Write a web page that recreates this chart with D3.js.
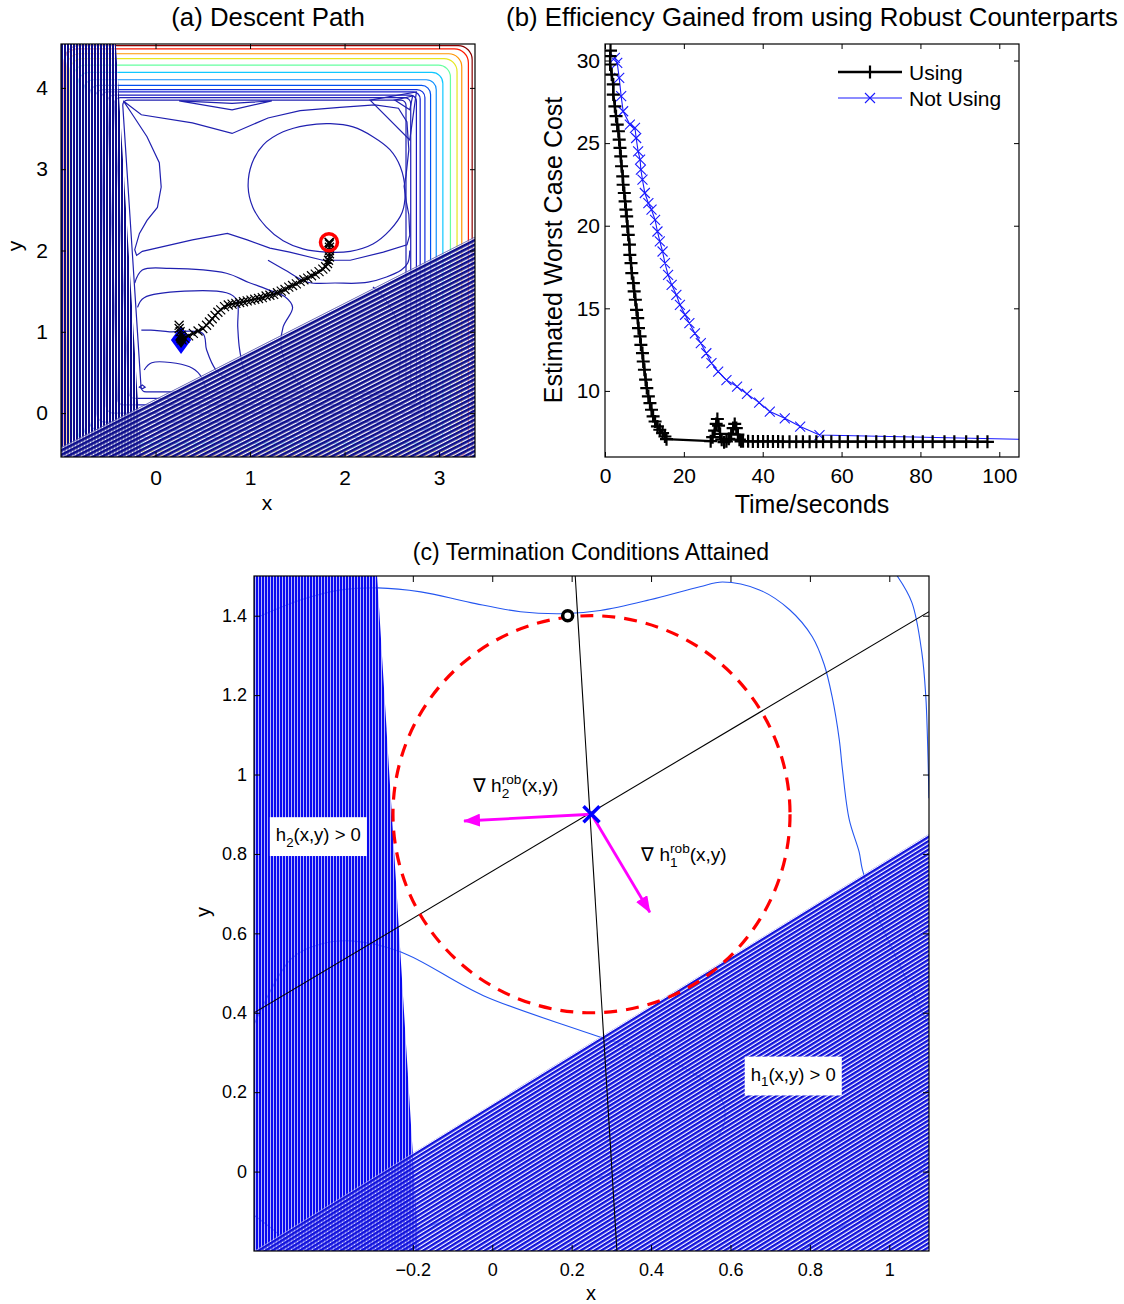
<!DOCTYPE html>
<html lang="en">
<head>
<meta charset="UTF-8">
<title>Robust descent</title>
<script src="https://cdn.jsdelivr.net/npm/d3@7"></script>
<style>
  body { margin: 0; background: #fff; }
  svg { font-family: "Liberation Sans", Arial, sans-serif; }
</style>
</head>
<body>
<div id="chart-space"></div>
<script>
// ---------------- (a) Descent Path ----------------
var aXTicks = [0, 1, 2, 3];
var aYTicks = [0, 1, 2, 3, 4];

// nested level curves (rounded boxes), outermost first
var levelColors = ["#8a0000", "#ff1a00", "#ff9400", "#e6e620", "#66ffa0", "#10c8ff", "#1090ff",
                   "#0050f0", "#1030e0", "#1820d0", "#1a1ac0", "#1e1eb8", "#2020b0"];
var levelTop = [4.52, 4.48, 4.42, 4.36, 4.28, 4.19, 4.10, 4.03, 3.98, 3.95, 3.91, 3.88, 3.85];
var levelRight = [3.35, 3.31, 3.24, 3.19, 3.12, 3.04, 2.97, 2.91, 2.85, 2.80, 2.76, 2.70, 2.65];
var levelBottom = [-0.62, -0.55, -0.52, -0.47, -0.42, -0.37, -0.30, -0.21, -0.11, 0.00, 0.10, 0.18, 0.26];
var levelLeftTop = [-0.96, -0.97, -0.94, -0.91, -0.87, -0.82, -0.76, -0.70, -0.64, -0.58, -0.51, -0.44, -0.35];
var levelLeftBottom = [-0.96, -0.97, -0.94, -0.91, -0.87, -0.82, -0.76, -0.70, -0.62, -0.52, -0.40, -0.28, -0.15];
var levelRadius = [14, 14, 13, 13, 12, 11, 10, 9, 8, 7, 6, 6, 5];

// inner level curves
var ellipseContour = [[0.98,2.78],[1.02,3.07],[1.14,3.30],[1.35,3.46],[1.60,3.54],[1.85,3.56],[2.09,3.52],
  [2.30,3.40],[2.48,3.24],[2.59,3.03],[2.64,2.74],[2.61,2.47],[2.48,2.25],[2.30,2.08],[2.06,1.99],
  [1.81,1.98],[1.56,2.02],[1.35,2.12],[1.17,2.29],[1.03,2.53]];
var xContour = [[-0.34,3.84],[-0.15,3.67],[0.39,3.57],[0.81,3.44],[1.19,3.63],[1.53,3.72],[1.95,3.76],
  [2.32,3.79],[2.57,3.75],[2.66,3.58],[2.68,3.24],[2.65,2.92],[2.63,2.79],[2.65,2.62],[2.68,2.44],
  [2.69,2.19],[2.66,2.07],[2.41,1.98],[2.06,1.88],[1.77,1.88],[1.42,1.98],[1.21,2.03],[0.97,2.13],
  [0.76,2.21],[0.39,2.13],[-0.14,1.99],[-0.20,1.94],[-0.22,2.01],[-0.17,2.21],[-0.09,2.37],[0.02,2.53],
  [0.06,2.78],[0.04,3.08],[-0.09,3.40],[-0.26,3.70]];
var belowContour = [[1.19,1.88],[1.37,1.76],[1.61,1.61],[1.90,1.60],[2.25,1.61],[2.60,1.76],[2.67,1.85],[2.69,2.00]];
var u1Contour = [[-0.22,1.60],[-0.14,1.76],[0.15,1.78],[0.75,1.72],[0.98,1.61],[1.21,1.51],[1.37,1.43],
  [1.45,1.30],[1.35,1.06],[1.33,0.81],[1.40,0.57],[1.61,0.28],[2.06,0.25],[2.53,0.21]];
var u2Contour = [[-0.19,1.30],[-0.12,1.42],[0.75,1.48],[0.86,1.39],[0.87,1.06],[0.89,0.78],[0.95,0.50],[1.12,0.26]];
var u3Contour = [[-0.15,1.02],[-0.05,1.02],[0.15,1.00],[0.50,0.98],[0.54,0.78],[0.64,0.53],[0.82,0.37]];
var u4Contour = [[-0.12,0.53],[-0.04,0.62],[0.36,0.57],[0.47,0.47],[0.54,0.28]];
var minLoop = [[-0.17,0.32],[-0.14,0.345],[-0.11,0.32],[-0.14,0.30]];
var rightInner = [[2.30,1.55],[2.41,1.43],[2.55,1.14],[2.59,0.78],[2.57,0.37]];
var flatLoop = [[0.25,3.84],[0.81,3.73],[1.23,3.84],[0.81,3.81]];
var bigTriangle = [[2.27,3.85],[2.76,3.95],[2.69,3.36]];
var smallTriangle = [[2.53,3.85],[2.72,3.90],[2.69,3.73]];

var aH2Line = [[-0.42, 4.54], [-0.15, -0.54]];
var aH1Line = [[-1.0, -0.42], [3.38, 2.17]];

var descentX = [0.25,0.25,0.26,0.27,0.27,0.28,0.31,0.35,0.40,0.45,0.50,0.54,0.57,0.60,0.63,0.66,0.69,0.73,
  0.77,0.81,0.85,0.89,0.93,0.97,1.01,1.05,1.09,1.13,1.17,1.21,1.25,1.29,1.33,1.37,1.41,1.45,1.49,1.53,1.57,
  1.61,1.65,1.69,1.73,1.77,1.80,1.82,1.83,1.84,1.84,1.84,1.84,1.84,1.84];
var descentY = [1.08,1.04,1.00,0.96,0.92,0.90,0.92,0.95,0.98,1.01,1.04,1.08,1.12,1.16,1.20,1.24,1.27,1.31,
  1.33,1.34,1.35,1.36,1.37,1.38,1.39,1.40,1.41,1.42,1.44,1.45,1.46,1.48,1.50,1.52,1.55,1.57,1.59,1.62,1.64,
  1.66,1.69,1.71,1.74,1.77,1.80,1.84,1.88,1.92,1.96,2.00,2.04,2.08,2.10];
var startPoint = [0.27, 0.90];
var endPoint = [1.835, 2.10];

// ---------------- (b) Efficiency ----------------
var bXTicks = [0, 20, 40, 60, 80, 100];
var bYTicks = [10, 15, 20, 25, 30];
var usingTime = [1.4,1.3,1.3,1.7,2.1,2.1,2.5,2.8,3.1,3.4,3.6,3.8,4.0,4.2,4.5,4.6,4.9,5.1,5.3,5.5,5.7,5.9,6.2,
  6.3,6.6,6.8,7.2,7.4,7.7,8.0,8.3,8.5,8.9,9.1,9.5,9.7,10.0,10.3,10.6,11.0,11.4,11.8,12.2,12.7,13.3,13.9,14.6,
  15.2,15.6,
  26.8,27.3,27.8,28.2,28.5,28.8,29.2,29.6,30.2,30.8,31.4,32.0,32.5,32.9,33.3,33.7,34.1,34.5,
  35.0,36.3,37.5,38.8,40.1,41.3,42.6,43.9,45.1,46.8,48.5,50.2,51.9,53.6,55.3,57.4,59.5,61.6,64.1,66.2,
  68.8,70.9,73.4,75.9,78.1,80.6,83.1,86.1,88.6,91.6,94.5,97.0];
var usingCost = [30.6,30.26,29.76,29.15,28.55,27.94,27.23,26.63,26.12,25.72,25.21,24.71,24.2,23.6,22.99,22.48,
  21.98,21.47,20.97,20.57,19.96,19.45,18.85,18.24,17.74,17.13,16.53,16.02,15.52,14.91,14.41,13.8,13.3,12.79,
  12.29,11.78,11.28,10.68,10.17,9.67,9.26,8.86,8.46,8.15,7.85,7.65,7.45,7.24,7.08,
  6.96,7.2,7.6,8.0,8.3,7.9,7.4,7.05,6.9,6.95,7.1,7.4,7.75,8.0,7.75,7.35,7.05,6.95,
  6.95,6.95,6.94,6.94,6.94,6.94,6.94,6.94,6.93,6.93,6.93,6.93,6.93,6.93,6.93,6.93,6.93,6.93,6.93,6.93,
  6.93,6.93,6.93,6.93,6.93,6.93,6.93,6.93,6.93,6.93,6.92,6.92];
var notUsingTime = [2.5,3.1,3.6,4.1,4.6,6.3,7.6,7.9,8.4,8.9,9.1,9.5,10.1,11.0,11.8,12.7,13.3,13.9,14.6,15.2,
  16.0,16.9,18.1,19.0,20.3,21.4,22.8,24.3,25.7,27.0,28.7,30.8,33.5,36.0,39.1,41.8,45.6,49.5,54.4,107];
var notUsingCost = [30.16,29.86,28.95,27.84,26.93,26.12,25.92,25.31,24.5,24.0,23.39,22.79,21.98,21.37,20.97,
  20.36,19.65,19.05,18.44,17.74,17.03,16.42,15.82,15.21,14.61,14.1,13.49,12.89,12.28,11.68,11.17,10.66,
  10.26,9.82,9.29,8.75,8.34,7.84,7.33,7.06];
var legendLabels = ["Using", "Not Using"];

// ---------------- (c) Termination ----------------
var cXTicks = [-0.2, 0, 0.2, 0.4, 0.6, 0.8, 1];
var cYTicks = [0, 0.2, 0.4, 0.6, 0.8, 1, 1.2, 1.4];
var cTopContour = [[-0.589,1.397],[-0.481,1.44],[-0.381,1.465],[-0.288,1.47],[-0.18,1.46],[-0.054,1.433],
  [0.071,1.41],[0.179,1.405],[0.272,1.413],[0.397,1.44],[0.523,1.473],[0.58,1.485],[0.673,1.465],[0.749,1.415],
  [0.806,1.347],[0.836,1.277],[0.856,1.196],[0.874,1.088],[0.882,1.013],[0.899,0.887],[0.924,0.805],
  [0.932,0.762],[0.974,0.636],[1.025,0.523],[1.082,0.403],[1.1,0.37]];
var cRightContour = [[1.02,1.5],[1.057,1.433],[1.082,1.307],[1.092,1.196],[1.096,1.096],[1.1,0.94]];
var cLowContour = [[-0.6,0.37],[-0.506,0.536],[-0.431,0.573],[-0.356,0.581],[-0.23,0.553],[-0.022,0.443],
  [0.247,0.347],[0.473,0.267],[0.573,0.191],[0.585,0.126],[0.555,0.076],[0.43,0.026],[0.304,-0.007],
  [0.222,-0.025],[-0.022,-0.092],[-0.172,-0.143],[-0.255,-0.18],[-0.305,-0.2]];
var cCornerContour = [[-0.6,-0.11],[-0.556,-0.143],[-0.506,-0.185],[-0.49,-0.2]];
var cBottomRightContour = [[1.1,0.06],[1.091,0.026],[1.025,-0.06],[0.932,-0.117],[0.874,-0.142],[0.78,-0.2]];
var cH2Line = [[-0.29, 1.5], [-0.185, -0.2]];
var cH1Line = [[-0.6, -0.2], [1.1, 0.85]];
var tangentA = [[0.209, 1.5], [0.314, -0.2]];
var tangentB = [[-0.6, 0.4], [1.1, 1.41]];
var centerPoint = [0.25, 0.9];
var robustRadius = 0.5;
var worstPoint = [0.19, 1.4];
var gradH2Tip = [-0.071, 0.883];
var gradH1Tip = [0.397, 0.653];

// ---------------- drawing ----------------
var svg = d3.select("#chart-space").append("svg").attr("width", 1124).attr("height", 1304);
var defs = svg.append("defs");

var xA = d3.scaleLinear().domain([-1.0, 3.38]).range([61, 475]);
var yA = d3.scaleLinear().domain([-0.54, 4.54]).range([457, 44]);
var xB = d3.scaleLinear().domain([0, 105]).range([605, 1019]);
var yB = d3.scaleLinear().domain([6, 31]).range([457, 44]);
var xC = d3.scaleLinear().domain([-0.6, 1.1]).range([254, 929]);
var yC = d3.scaleLinear().domain([-0.2, 1.5]).range([1251, 576]);

function clip(id, x, y) {
    defs.append("clipPath").attr("id", id).append("rect")
        .attr("x", x.range()[0]).attr("y", y.range()[1])
        .attr("width", x.range()[1] - x.range()[0]).attr("height", y.range()[0] - y.range()[1]);
}
clip("clipA", xA, yA); clip("clipB", xB, yB); clip("clipC", xC, yC);

// hatch: coloured stripes with see-through gaps, so overlaps get darker
function stripes(id, period, color, gap, angle) {
    var p = defs.append("pattern").attr("id", id).attr("patternUnits", "userSpaceOnUse")
        .attr("width", period).attr("height", period)
        .attr("patternTransform", "rotate(" + angle + ")");
    p.append("rect").attr("width", period).attr("height", period - gap).attr("fill", color);
}
function lineAngle(line, x, y) {
    return Math.atan2(y(line[1][1]) - y(line[0][1]), x(line[1][0]) - x(line[0][0])) * 180 / Math.PI;
}
stripes("hatchA2", 3, "#0c0c8c", 1, 90);
stripes("hatchA1", 4, "#0e0e8c", 1.3, lineAngle(aH1Line, xA, yA));
stripes("hatchC2", 3, "#0a0af0", 0.7, 90);
stripes("hatchC1", 3.6, "#1212dc", 1.2, lineAngle(cH1Line, xC, yC));

function hatch(g, d, pattern, veil) {
    g.append("path").attr("d", d).attr("fill", "#fff").attr("fill-opacity", veil);
    g.append("path").attr("d", d).attr("fill", "url(#" + pattern + ")");
}

function frame(g, x, y, xTicks, yTicks, tickLen, padX, padY, size) {
    var xr = x.range(), yr = y.range();
    var fmt = d3.format("~g");
    g.append("g").attr("transform", "translate(0," + yr[0] + ")")
        .call(d3.axisBottom(x).tickValues(xTicks).tickFormat(fmt).tickSize(-tickLen).tickPadding(padX));
    g.append("g").attr("transform", "translate(0," + yr[1] + ")")
        .call(d3.axisTop(x).tickValues(xTicks).tickFormat("").tickSize(-tickLen));
    g.append("g").attr("transform", "translate(" + xr[0] + ",0)")
        .call(d3.axisLeft(y).tickValues(yTicks).tickFormat(fmt).tickSize(-tickLen).tickPadding(padY));
    g.append("g").attr("transform", "translate(" + xr[1] + ",0)")
        .call(d3.axisRight(y).tickValues(yTicks).tickFormat("").tickSize(-tickLen));
    g.selectAll(".domain").remove();
    g.selectAll(".tick text").attr("font-size", size).attr("font-family", "'Liberation Sans', Arial, sans-serif");
    g.append("rect").attr("x", xr[0]).attr("y", yr[1]).attr("width", xr[1] - xr[0]).attr("height", yr[0] - yr[1])
        .attr("fill", "none").attr("stroke", "#000").attr("stroke-width", 1.2);
}
function label(x, y, txt, size, rotate) {
    var t = svg.append("text").attr("text-anchor", "middle").attr("font-size", size).text(txt);
    if (rotate) t.attr("transform", "translate(" + x + "," + y + ") rotate(-90)");
    else t.attr("x", x).attr("y", y);
}
function crossPath(px, py, a) {
    return "M" + (px - a) + "," + (py - a) + "L" + (px + a) + "," + (py + a) +
           "M" + (px - a) + "," + (py + a) + "L" + (px + a) + "," + (py - a);
}
function plusPath(px, py, a) {
    return "M" + (px - a) + "," + py + "H" + (px + a) + "M" + px + "," + (py - a) + "V" + (py + a);
}
function leftRegion(line, x, y) {
    var x0 = x.domain()[0];
    return [[x0, line[0][1]], line[0], line[1], [x0, line[1][1]]];
}
function lowerRegion(line, y) {
    var y0 = y.domain()[0];
    return [line[0], line[1], [line[1][0], y0], [line[0][0], y0]];
}

// ===== panel (a) =====
var gA = svg.append("g");
var plotA = gA.append("g").attr("clip-path", "url(#clipA)");
levelColors.forEach(function (c, i) {
    var pts = [[xA(levelLeftTop[i]), yA(levelTop[i])], [xA(levelRight[i]), yA(levelTop[i])],
               [xA(levelRight[i]), yA(levelBottom[i])], [xA(levelLeftBottom[i]), yA(levelBottom[i])]];
    var p = d3.path(), r = levelRadius[i];
    p.moveTo((pts[0][0] + pts[1][0]) / 2, pts[0][1]);
    for (var k = 1; k <= 4; k++) {
        var cpt = pts[k % 4], nx = pts[(k + 1) % 4];
        p.arcTo(cpt[0], cpt[1], nx[0], nx[1], r);
    }
    p.closePath();
    plotA.append("path").attr("d", p.toString()).attr("fill", "none").attr("stroke", c).attr("stroke-width", 1.2);
});
var lineA = d3.line().x(function (d) { return xA(d[0]); }).y(function (d) { return yA(d[1]); });
var innerColor = "#2020b0";
[xContour, flatLoop, bigTriangle, smallTriangle, minLoop].forEach(function (c) {
    plotA.append("path").attr("d", lineA.curve(d3.curveLinearClosed)(c))
        .attr("fill", "none").attr("stroke", innerColor).attr("stroke-width", 1.2);
});
plotA.append("path").attr("d", lineA.curve(d3.curveCatmullRomClosed)(ellipseContour))
    .attr("fill", "none").attr("stroke", innerColor).attr("stroke-width", 1.2);
[belowContour, u1Contour, u2Contour, u3Contour, u4Contour, rightInner].forEach(function (c) {
    plotA.append("path").attr("d", lineA.curve(d3.curveCatmullRom)(c))
        .attr("fill", "none").attr("stroke", innerColor).attr("stroke-width", 1.2);
});
lineA.curve(d3.curveLinear);
hatch(plotA, lineA(leftRegion(aH2Line, xA, yA)) + "Z", "hatchA2", 0.6);
hatch(plotA, lineA(lowerRegion(aH1Line, yA)) + "Z", "hatchA1", 0.6);

var descent = d3.zip(descentX, descentY);
plotA.append("path").attr("d", lineA(descent.slice(5))).attr("fill", "none").attr("stroke", "#000").attr("stroke-width", 1.6);
var dPts = "M" + xA(startPoint[0]) + "," + (yA(startPoint[1]) - 11) + "l8,11l-8,11l-8,-11z";
plotA.append("path").attr("d", dPts).attr("fill", "#000").attr("stroke", "#0000ff").attr("stroke-width", 3.5)
    .attr("stroke-linejoin", "miter");
plotA.append("path").attr("d", descent.map(function (d) { return crossPath(xA(d[0]), yA(d[1]), 4.5); }).join(""))
    .attr("stroke", "#000").attr("stroke-width", 1.2).attr("fill", "none");
plotA.append("circle").attr("cx", xA(endPoint[0])).attr("cy", yA(endPoint[1])).attr("r", 8.5)
    .attr("fill", "none").attr("stroke", "#ff0000").attr("stroke-width", 3.5);
plotA.append("path").attr("d", crossPath(xA(endPoint[0]), yA(endPoint[1]), 4.5)).attr("stroke", "#000").attr("stroke-width", 1.2);
frame(gA, xA, yA, aXTicks, aYTicks, 5, 13, 13, 21);
label(268, 26, "(a) Descent Path", 25.8);
label(267, 510, "x", 21);
label(22, 246, "y", 21, true);

// ===== panel (b) =====
var gB = svg.append("g");
var plotB = gB.append("g").attr("clip-path", "url(#clipB)");
var lineB = d3.line().x(function (d) { return xB(d[0]); }).y(function (d) { return yB(d[1]); });
var usingPts = d3.zip(usingTime, usingCost);
var notPts = d3.zip(notUsingTime, notUsingCost);
plotB.append("path").attr("d", lineB(notPts)).attr("fill", "none").attr("stroke", "#1a1aff").attr("stroke-width", 1.1);
plotB.append("path").attr("d", notPts.map(function (d) { return crossPath(xB(d[0]), yB(d[1]), 5); }).join(""))
    .attr("stroke", "#1a1aff").attr("stroke-width", 1.1).attr("fill", "none");
plotB.append("path").attr("d", lineB(usingPts)).attr("fill", "none").attr("stroke", "#000").attr("stroke-width", 2.4);
plotB.append("path").attr("d", usingPts.map(function (d) { return plusPath(xB(d[0]), yB(d[1]), 6.5); }).join(""))
    .attr("stroke", "#000").attr("stroke-width", 2.2).attr("fill", "none");
frame(gB, xB, yB, bXTicks, bYTicks, 5, 11, 5, 21);
// legend
var leg = gB.append("g");
leg.append("line").attr("x1", 838).attr("x2", 902).attr("y1", 72).attr("y2", 72).attr("stroke", "#000").attr("stroke-width", 2.4);
leg.append("path").attr("d", plusPath(870, 72, 6.5)).attr("stroke", "#000").attr("stroke-width", 2.2);
leg.append("line").attr("x1", 838).attr("x2", 902).attr("y1", 98).attr("y2", 98).attr("stroke", "#1a1aff").attr("stroke-width", 1.1);
leg.append("path").attr("d", crossPath(870, 98, 5)).attr("stroke", "#1a1aff").attr("stroke-width", 1.1);
leg.selectAll("text.leg").data(legendLabels).join("text").attr("class", "leg")
    .attr("x", 909).attr("y", function (d, i) { return 79.5 + i * 26; }).attr("font-size", 21).text(function (d) { return d; });
label(812, 26, "(b) Efficiency Gained from using Robust Counterparts", 25.8);
label(812, 513, "Time/seconds", 25);
label(562, 250, "Estimated Worst Case Cost", 25, true);

// ===== panel (c) =====
var gC = svg.append("g");
var plotC = gC.append("g").attr("clip-path", "url(#clipC)");
var lineC = d3.line().x(function (d) { return xC(d[0]); }).y(function (d) { return yC(d[1]); });
var contourColor = "#2456f0";
[cTopContour, cRightContour, cLowContour, cCornerContour, cBottomRightContour].forEach(function (c) {
    plotC.append("path").attr("d", lineC.curve(d3.curveCatmullRom)(c))
        .attr("fill", "none").attr("stroke", contourColor).attr("stroke-width", 1.1);
});
lineC.curve(d3.curveLinear);
hatch(plotC, lineC(leftRegion(cH2Line, xC, yC)) + "Z", "hatchC2", 0.5);
hatch(plotC, lineC(lowerRegion(cH1Line, yC)) + "Z", "hatchC1", 0.5);
[tangentA, tangentB].forEach(function (l) {
    plotC.append("path").attr("d", lineC(l)).attr("stroke", "#000").attr("stroke-width", 1.1).attr("fill", "none");
});
plotC.append("circle").attr("cx", xC(centerPoint[0])).attr("cy", yC(centerPoint[1]))
    .attr("r", xC(centerPoint[0] + robustRadius) - xC(centerPoint[0]))
    .attr("fill", "none").attr("stroke", "#ff0000").attr("stroke-width", 3.2).attr("stroke-dasharray", "13,9");

defs.append("marker").attr("id", "arrowHead").attr("markerUnits", "userSpaceOnUse")
    .attr("viewBox", "0 0 17 13").attr("refX", 16).attr("refY", 6.5)
    .attr("markerWidth", 17).attr("markerHeight", 13).attr("orient", "auto")
    .append("path").attr("d", "M0,0L17,6.5L0,13z").attr("fill", "#ff00ff");
[gradH2Tip, gradH1Tip].forEach(function (tip) {
    plotC.append("line").attr("x1", xC(centerPoint[0])).attr("y1", yC(centerPoint[1]))
        .attr("x2", xC(tip[0])).attr("y2", yC(tip[1]))
        .attr("stroke", "#ff00ff").attr("stroke-width", 2.8).attr("marker-end", "url(#arrowHead)");
});
plotC.append("path").attr("d", crossPath(xC(centerPoint[0]), yC(centerPoint[1]), 8))
    .attr("stroke", "#0000ff").attr("stroke-width", 3.5);
plotC.append("circle").attr("cx", xC(worstPoint[0])).attr("cy", yC(worstPoint[1])).attr("r", 5)
    .attr("fill", "#fff").attr("stroke", "#000").attr("stroke-width", 3.5);

function richText(g, x, y, parts, size) {
    var cx = x;
    parts.forEach(function (p) {
        if (p.t) {
            var el = g.append("text").attr("x", cx).attr("y", y).attr("font-size", size).text(p.t);
            cx += el.node().getComputedTextLength();
        } else {
            var w = 0;
            if (p.sub) {
                var s = g.append("text").attr("x", cx).attr("y", y + size * 0.3).attr("font-size", size * 0.72).text(p.sub);
                w = Math.max(w, s.node().getComputedTextLength());
            }
            if (p.sup) {
                var u = g.append("text").attr("x", cx).attr("y", y - size * 0.42).attr("font-size", size * 0.72).text(p.sup);
                w = Math.max(w, u.node().getComputedTextLength());
            }
            cx += w;
        }
    });
    return cx - x;
}
function boxedText(x, y, parts, size) {
    var g = gC.append("g");
    var box = g.append("rect").attr("fill", "#fff");
    var w = richText(g, x, y, parts, size);
    box.attr("x", x - 6).attr("y", y - size * 1.3).attr("width", w + 12).attr("height", size * 2.1);
}
richText(gC, xC(-0.049), yC(0.955), [{ t: "\u2207 h" }, { sub: "2", sup: "rob" }, { t: "(x,y)" }], 19);
richText(gC, xC(0.375), yC(0.782), [{ t: "\u2207 h" }, { sub: "1", sup: "rob" }, { t: "(x,y)" }], 19);
boxedText(xC(-0.545), yC(0.832), [{ t: "h" }, { sub: "2" }, { t: "(x,y) > 0" }], 18.5);
boxedText(xC(0.651), yC(0.229), [{ t: "h" }, { sub: "1" }, { t: "(x,y) > 0" }], 18.5);
frame(gC, xC, yC, cXTicks, cYTicks, 6, 12, 7, 18);
label(591, 560, "(c) Termination Conditions Attained", 23);
label(591, 1300, "x", 20);
label(210, 912, "y", 20, true);
</script>
</body>
</html>
